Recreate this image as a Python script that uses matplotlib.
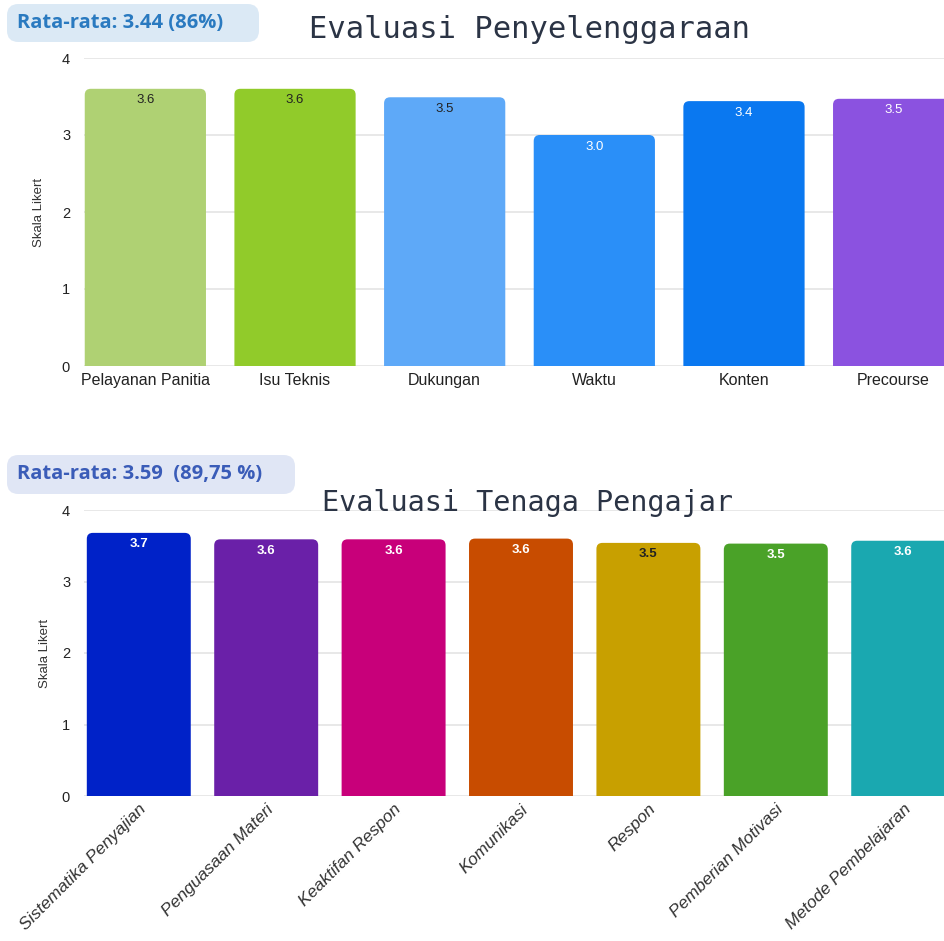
import matplotlib
matplotlib.use("Agg")
import matplotlib.pyplot as plt
from matplotlib.patches import FancyBboxPatch

# top chart
cat_top = ["Pelayanan Panitia", "Isu Teknis", "Dukungan", "Waktu", "Konten", "Precourse"]
val_top = [3.6, 3.6, 3.49, 3.0, 3.44, 3.47]
lab_top = ["3.6", "3.6", "3.5", "3.0", "3.4", "3.5"]
col_top = ["#afd173", "#91cb2a", "#5ea9f8", "#2a8ff8", "#0a78f0", "#8b52e0"]
txt_top = ["#222222", "#222222", "#222222", "white", "white", "white"]

# bottom chart
cat_bot = ["Sistematika Penyajian", "Penguasaan Materi", "Keaktifan Respon", "Komunikasi",
           "Respon", "Pemberian Motivasi", "Metode Pembelajaran"]
val_bot = [3.68, 3.59, 3.59, 3.6, 3.54, 3.53, 3.57]
lab_bot = ["3.7", "3.6", "3.6", "3.6", "3.5", "3.5", "3.6"]
col_bot = ["#0022c8", "#6a20a8", "#c8007a", "#c84c00", "#c8a000", "#4aa228", "#1aa8b0"]
txt_bot = ["white", "white", "white", "white", "#222222", "white", "white"]

W, H = 945, 941
fig = plt.figure(figsize=(W / 100, H / 100), dpi=100)
fig.patch.set_facecolor("white")

SANS = ["Liberation Sans", "DejaVu Sans"]


def px(x0, y0, x1, y1):
    # pixel box (top-left origin) -> figure fraction rect
    return [x0 / W, 1 - y1 / H, (x1 - x0) / W, (y1 - y0) / H]


def style_ax(ax, lpad):
    ax.set_ylim(0, 4)
    ax.set_yticks([0, 1, 2, 3, 4])
    ax.grid(axis="y", color="#e4e4e4", linewidth=1.2, zorder=0)
    ax.set_axisbelow(True)
    for s in ax.spines.values():
        s.set_visible(False)
    ax.tick_params(length=0)
    ax.tick_params(axis="y", pad=10)
    for t in ax.get_yticklabels():
        t.set_family(SANS)
        t.set_fontsize(10.5)
        t.set_color("#222222")
    ax.set_ylabel("Skala Likert", fontsize=9.5, family=SANS, color="#333333", labelpad=lpad)


def bars(ax, cats, vals, labs, cols, tcols, width, weight, rad_px, ppx, ppy):
    xs = list(range(len(cats)))
    bc = ax.bar(xs, vals, width=width, color=cols, zorder=2)
    # swap plain rectangles for ones with rounded top corners
    for p in bc.patches:
        x0, w, h = p.get_x(), p.get_width(), p.get_height()
        rb = FancyBboxPatch((x0, -0.2), w, h + 0.2,
                            boxstyle=f"round,pad=0,rounding_size={rad_px / ppx}",
                            mutation_aspect=ppx / ppy,
                            facecolor=p.get_facecolor(), edgecolor="none", zorder=2)
        ax.add_patch(rb)
        p.set_visible(False)
    for x, v, l, c in zip(xs, vals, labs, tcols):
        ax.annotate(l, (x, v), xytext=(0, -4), textcoords="offset points",
                    ha="center", va="top", fontsize=9.5, color=c, fontweight=weight,
                    family=SANS, zorder=3)
    ax.set_xticks(xs)


def badge(x0, y0, x1, y1, text, bg, fg):
    r = FancyBboxPatch((x0 / W, 1 - y1 / H), (x1 - x0) / W, (y1 - y0) / H,
                       boxstyle="round,pad=0,rounding_size=0.012",
                       transform=fig.transFigure, facecolor=bg, edgecolor="none")
    fig.patches.append(r)
    fig.text((x0 + 10) / W, 1 - (y0 + y1) / 2 / H, text, ha="left", va="center",
             fontsize=14.5, fontweight="bold", color=fg, family=["Open Sans", "DejaVu Sans"])


# top
ax1 = fig.add_axes(px(84, 58, 955, 366))
bars(ax1, cat_top, val_top, lab_top, col_top, txt_top, 0.81, "normal", 6, 149.5, 77)
ax1.set_xlim(-0.41, len(cat_top) - 1 + 0.41)
ax1.set_xticklabels(cat_top, fontsize=11.5, family=SANS, color="#222222")
ax1.tick_params(axis="x", pad=5)
style_ax(ax1, 12)

# bottom
ax2 = fig.add_axes(px(84, 510, 958, 796))
bars(ax2, cat_bot, val_bot, lab_bot, col_bot, txt_bot, 0.816, "bold", 6, 127.5, 71.5)
ax2.set_xlim(-0.43, len(cat_bot) - 1 + 0.43)
ax2.set_xticklabels(cat_bot, fontsize=12.5, family=SANS, style="italic",
                    color="#333333", rotation=45, ha="right", rotation_mode="anchor")
ax2.tick_params(axis="x", pad=4)
style_ax(ax2, 8)

fig.text(530 / W, 1 - 30 / H, "Evaluasi Penyelenggaraan", ha="center", va="center",
         fontsize=22, color="#2b3445", family=["DejaVu Sans Mono"])
fig.text(528 / W, 1 - 503 / H, "Evaluasi Tenaga Pengajar", ha="center", va="center",
         fontsize=20.5, color="#2b3445", family=["DejaVu Sans Mono"], zorder=5)

badge(7, 4, 259, 42, "Rata-rata: 3.44 (86%)", "#dbe9f5", "#2a7ac0")
badge(7, 455, 295, 494, "Rata-rata: 3.59  (89,75 %)", "#e0e6f5", "#3a5cb8")

fig.savefig("out.png", dpi=100)
